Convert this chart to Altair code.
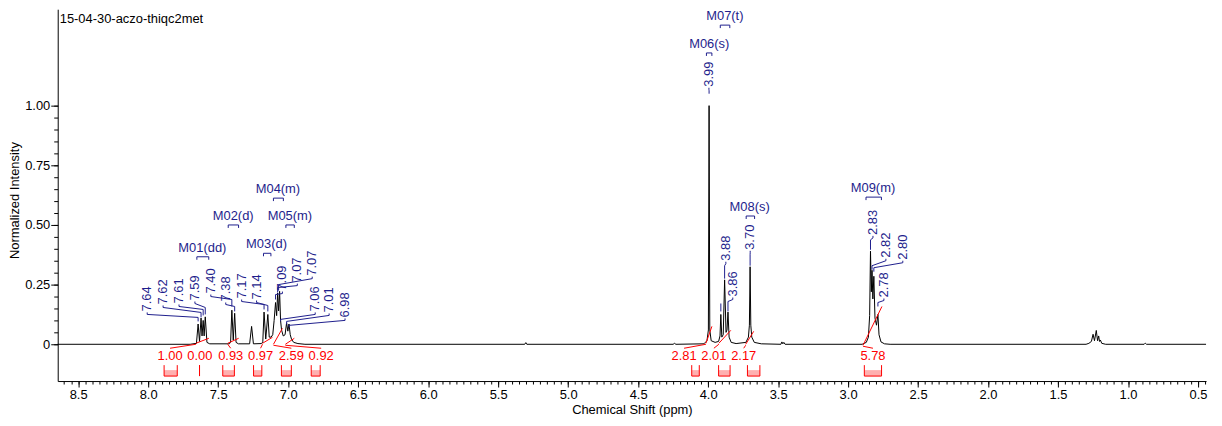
import altair as alt
import pandas as pd

# ---------------- values ----------------
title_text = "15-04-30-aczo-thiqc2met"

# spectrum vertices (ppm, normalized intensity), region by region
base_left = [(8.646, 0.0), (7.700, 0.0)]
aromatic = [(7.655, .004), (7.643, .085), (7.633, .012), (7.622, .110), (7.615, .035),
            (7.607, .100), (7.600, .035), (7.592, .115), (7.580, .008), (7.560, .002),
            (7.420, .002), (7.411, .008), (7.402, .143), (7.392, .018), (7.382, .130),
            (7.372, .008), (7.355, .002),
            (7.275, .002), (7.261, .075), (7.248, .002),
            (7.190, .003), (7.181, .010), (7.172, .135), (7.160, .022), (7.145, .125),
            (7.135, .030), (7.122, .030),
            (7.110, .040), (7.100, .100), (7.090, .175), (7.082, .120), (7.075, .215),
            (7.068, .140), (7.061, .222), (7.054, .100), (7.047, .060), (7.035, .035),
            (7.022, .040), (7.011, .090), (7.002, .055), (6.994, .085), (6.985, .040),
            (6.975, .020), (6.960, .008), (6.930, .003), (6.880, 0.0)]
minor_mid = [(5.310, 0.0), (5.302, .007), (5.295, 0.0),
             (4.250, 0.0), (4.240, .004), (4.230, 0.0)]
methoxy = [(4.030, .002), (4.008, .015), (3.998, .060), (3.993, 1.000), (3.988, .060),
           (3.978, .015), (3.950, .008),
           (3.925, .012), (3.915, .035), (3.909, .125), (3.902, .030), (3.892, .040),
           (3.882, .270), (3.872, .050), (3.865, .060), (3.858, .135), (3.850, .030),
           (3.835, .008), (3.800, .003),
           (3.730, .008), (3.712, .030), (3.705, .080), (3.700, .325), (3.695, .080),
           (3.688, .030), (3.670, .008), (3.620, .002),
           (3.480, 0.0), (3.473, .010), (3.466, .002), (3.459, .008), (3.450, 0.0)]
ch2 = [(2.900, 0.0), (2.870, .008), (2.855, .030), (2.846, .120), (2.840, .390),
       (2.834, .220), (2.829, .310), (2.823, .190), (2.816, .285), (2.808, .110),
       (2.797, .080), (2.787, .125), (2.779, .040), (2.765, .010), (2.740, .002), (2.700, 0.0)]
upfield = [(1.300, 0.0), (1.280, .004), (1.262, .012), (1.250, .042), (1.240, .015),
           (1.227, .058), (1.218, .015), (1.210, .035), (1.204, .012), (1.198, .018),
           (1.188, .004), (1.160, 0.0), (0.885, 0.0), (0.877, .005), (0.868, 0.0), (0.443, 0.0)]

# peak picking labels
peak_text = ["7.64", "7.62", "7.61", "7.59", "7.40", "7.38", "7.17", "7.14", "7.09", "7.07",
             "7.07", "7.06", "7.01", "6.98", "3.99", "3.88", "3.86", "3.70", "2.83", "2.82",
             "2.80", "2.78"]
peak_ppm = [7.643, 7.622, 7.607, 7.592, 7.402, 7.382, 7.172, 7.145, 7.090, 7.075,
            7.068, 7.054, 7.011, 6.994, 3.993, 3.882, 3.858, 3.700, 2.840, 2.829,
            2.816, 2.787]

# multiplets
mult_names = ["M01(dd)", "M02(d)", "M03(d)", "M04(m)", "M05(m)", "M06(s)", "M07(t)",
              "M08(s)", "M09(m)"]
mult_from = [7.652, 7.428, 7.176, 7.105, 7.016, 4.012, 3.913, 3.728, 2.872]
mult_to = [7.567, 7.354, 7.123, 7.034, 6.956, 3.973, 3.845, 3.668, 2.762]

# integrals
integral_text = ["1.00", "0.00", "0.93", "0.97", "2.59", "0.92", "2.81", "2.01", "2.17", "5.78"]
integral_from = [7.886, 7.633, 7.467, 7.247, 7.048, 6.835, 4.117, 3.925, 3.719, 2.884]
integral_to = [7.792, 7.633, 7.384, 7.188, 6.977, 6.771, 4.063, 3.843, 3.630, 2.761]

# ---------------- layout (page pixels) ----------------
BLUE = "#1e1e8c"
RED = "#ff0000"
PINK = "#ff9c9c"
FONT = "Liberation Sans"

W, H = 1155, 374
LEFT, TOP = 58, 8
PPM_L, PPM_R = 8.646, 0.443
INT_B, INT_T = -0.154, 1.404


def px2ppm(x):
    return PPM_L - (x - LEFT) * (PPM_L - PPM_R) / W


def ppm2px(p):
    return LEFT + (PPM_L - p) * W / (PPM_L - PPM_R)


def py2int(y):
    return INT_T - (y - TOP) * (INT_T - INT_B) / H


lab_x = [148, 164, 180, 196, 212, 227, 243, 258, 284, 299, 314, 317, 331, 347,
         713, 730, 737, 754.5, 878, 891, 908, 889]
lab_bottom = [312, 305, 304, 301, 294, 302, 299, 300, 291, 283, 276, 312, 313, 318,
              86, 261, 297, 250, 235, 258, 260, 298]
lead_kink = [318, 313, 310, 308, 300, 307, 305, 306, 295, 288, 285, 320, 322, 326,
             90, 266, 302, 255, 240, 266, 268, 303]
lead_end = [322, 318, 316, 315, 307, 312, 310, 312, 300, 293, 291, 322, 325, 328,
            93, 279, 312, 266, 250, 270, 272, 307]

mult_tx = [203.5, 234.5, 268, 279.5, 291.5, 713.3, 729, 754, 878]
mult_ty = [248, 216, 244.5, 189, 216, 43, 15, 207, 188]

int_tx = [171, 201, 232, 262, 293, 323, 688, 718, 748, 878]
INT_TY = 357
curve_px = [(197, 344, 210, 339), None, (229, 344, 240, 339), (264, 344, 274, 338),
            (275, 345, 284, 329), (287, 345, 296, 339), (710, 344, 716, 327),
            (723, 344, 735, 331), (750, 345, 758, 332), (868, 346, 887, 307)]

# ---------------- tables ----------------
spectrum = base_left + aromatic + minor_mid + methoxy + ch2 + upfield
spec_df = pd.DataFrame(spectrum, columns=["ppm", "inten"])

lead_rows, lab_rows = [], []
for i, t in enumerate(peak_text):
    px = ppm2px(peak_ppm[i])
    pts = [(lab_x[i], lab_bottom[i] + 1), (lab_x[i], lab_bottom[i] + 3),
           (px, lead_kink[i]), (px, lead_end[i])]
    for k, (x, y) in enumerate(pts):
        lead_rows.append({"id": i, "k": k, "x": px2ppm(x), "y": py2int(y)})
    lab_rows.append({"t": t, "x": px2ppm(lab_x[i]), "y": py2int(lab_bottom[i])})
# short unlabeled leader over the 3.91 line
for k, y in enumerate([304, 312]):
    lead_rows.append({"id": 99, "k": k, "x": 3.909, "y": py2int(y)})
lead_df = pd.DataFrame(lead_rows)
lab_df = pd.DataFrame(lab_rows)

br_rows, mt_rows = [], []
for i, n in enumerate(mult_names):
    ytop = mult_ty[i] + 9
    pts = [(mult_from[i], ytop + 3), (mult_from[i], ytop), (mult_to[i], ytop), (mult_to[i], ytop + 3)]
    for k, (x, y) in enumerate(pts):
        br_rows.append({"id": i, "k": k, "x": x, "y": py2int(y)})
    mt_rows.append({"t": n, "x": px2ppm(mult_tx[i]), "y": py2int(mult_ty[i])})
br_df = pd.DataFrame(br_rows)
mt_df = pd.DataFrame(mt_rows)

it_rows, curve_rows, bar_rows = [], [], []
for i, t in enumerate(integral_text):
    it_rows.append({"t": t, "x": px2ppm(int_tx[i]), "y": py2int(INT_TY)})
    c = curve_px[i]
    if c is not None:
        x0, y0, x1, y1 = c
        for k, (x, y) in enumerate([(int_tx[i], INT_TY - 8), (x0, y0 + 1)]):
            curve_rows.append({"id": f"l{i}", "k": k, "x": px2ppm(x), "y": py2int(y)})
        for k, (x, y) in enumerate([(x0, y0), (x1, y1)]):
            curve_rows.append({"id": f"c{i}", "k": k, "x": px2ppm(x), "y": py2int(y)})
    bar_rows.append({"a": integral_from[i], "b": integral_to[i],
                     "ytop": py2int(366), "yfill": py2int(371), "ybot": py2int(377)})
it_df = pd.DataFrame(it_rows)
curve_df = pd.DataFrame(curve_rows)
bar_df = pd.DataFrame(bar_rows)

# ---------------- chart ----------------
xs = alt.Scale(domain=[PPM_R, PPM_L], reverse=True, nice=False, zero=False)
ys = alt.Scale(domain=[INT_B, INT_T], nice=False, zero=False)

x_major = alt.Axis(values=[0.5 * i for i in range(1, 18)], format=".1f", tickSize=6,
                   labelPadding=2, labelFontSize=13, labelFont=FONT, labelColor="black",
                   domainColor="black", tickColor="black", grid=False, orient="bottom",
                   title="Chemical Shift (ppm)", titleFont=FONT, titleFontSize=13,
                   titleFontWeight="normal", titleColor="black", titlePadding=2,
                   labelFlush=False, labelOverlap=False)
y_major = alt.Axis(values=[0, 0.25, 0.5, 0.75, 1.0], tickSize=7, labelPadding=1,
                   labelExpr="datum.value == 0 ? '0' : format(datum.value, '.2f')",
                   labelFontSize=13, labelFont=FONT, labelColor="black", orient="left",
                   domainColor="black", tickColor="black", grid=False,
                   title="Normalized Intensity", titleFont=FONT, titleFontSize=13,
                   titleFontWeight="normal", titleColor="black", titleX=-43, titleY=192,
                   titleBaseline="middle", titleAlign="center", labelFlush=False)
x_minor = alt.Axis(values=[round(0.45 + 0.05 * i, 2) for i in range(164)], tickSize=3,
                   labels=False, domain=False, grid=False, title=None, orient="bottom",
                   tickColor="black")
y_minor = alt.Axis(values=[round(0.05 * i, 2) for i in range(21)], tickSize=4,
                   labels=False, domain=False, grid=False, title=None, orient="left",
                   tickColor="black")

X = lambda f: alt.X(f"{f}:Q", scale=xs, axis=None)
Y = lambda f: alt.Y(f"{f}:Q", scale=ys, axis=None)

line = alt.Chart(spec_df).mark_line(color="black", strokeWidth=1).encode(
    x=X("ppm"), y=Y("inten"))

leaders = alt.Chart(lead_df).mark_line(color=BLUE, strokeWidth=1).encode(
    x=X("x"), y=Y("y"), detail="id:N", order="k:O")
labels = alt.Chart(lab_df).mark_text(angle=270, align="left", baseline="middle",
                                     font=FONT, fontSize=13, color=BLUE).encode(
    x=X("x"), y=Y("y"), text="t:N")

brackets = alt.Chart(br_df).mark_line(color=BLUE, strokeWidth=1).encode(
    x=X("x"), y=Y("y"), detail="id:N", order="k:O")
mtext = alt.Chart(mt_df).mark_text(align="center", baseline="middle", font=FONT,
                                   fontSize=13, color=BLUE).encode(
    x=X("x"), y=Y("y"), text="t:N")

curves = alt.Chart(curve_df).mark_line(color=RED, strokeWidth=1).encode(
    x=X("x"), y=Y("y"), detail="id:N", order="k:O")
itext = alt.Chart(it_df).mark_text(align="center", baseline="middle", font=FONT,
                                   fontSize=13, color=RED).encode(
    x=X("x"), y=Y("y"), text="t:N")
bar_fill = alt.Chart(bar_df).mark_rect(color=PINK, opacity=0.8).encode(
    x=X("a"), x2="b:Q", y=Y("yfill"), y2="ybot:Q")
bar_left = alt.Chart(bar_df).mark_rule(color=RED, strokeWidth=1).encode(
    x=X("a"), y=Y("ytop"), y2="ybot:Q")
bar_right = alt.Chart(bar_df).mark_rule(color=RED, strokeWidth=1).encode(
    x=X("b"), y=Y("ytop"), y2="ybot:Q")
bar_bottom = alt.Chart(bar_df).mark_rule(color=RED, strokeWidth=1).encode(
    x=X("a"), x2="b:Q", y=Y("ybot"))

title = alt.Chart(pd.DataFrame({"t": [title_text]})).mark_text(
    align="left", baseline="middle", font=FONT, fontSize=13, color="black").encode(
    x=alt.value(2), y=alt.value(10), text="t:N")

main = alt.layer(line, bar_fill, bar_left, bar_right, bar_bottom, curves, itext,
                 leaders, labels, brackets, mtext, title)

major = alt.Chart(spec_df).mark_line(opacity=0).encode(
    x=alt.X("ppm:Q", scale=xs, axis=x_major),
    y=alt.Y("inten:Q", scale=ys, axis=y_major),
)
minor = alt.Chart(spec_df).mark_line(opacity=0).encode(
    x=alt.X("ppm:Q", scale=xs, axis=x_minor),
    y=alt.Y("inten:Q", scale=ys, axis=y_minor),
)

chart = alt.layer(main, major, minor).resolve_scale(x="independent", y="independent").properties(
    width=W, height=H,
    autosize=alt.AutoSizeParams(type="none"),
    padding={"left": LEFT - 8, "top": TOP - 8, "right": 8, "bottom": 44},
    background="white",
).configure_view(stroke=None)

chart.save("out.html", embed_options={"renderer": "svg", "actions": False})
